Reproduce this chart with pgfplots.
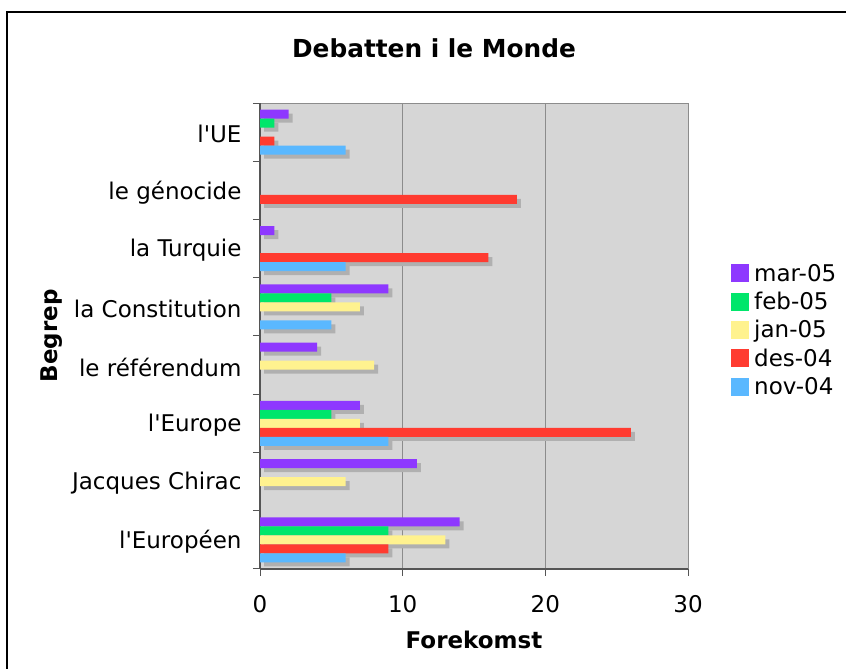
\documentclass[border=0pt]{standalone}
\usepackage{pgfplots}
\pgfplotsset{compat=1.18}
\usepackage{fontspec}
\setmainfont{DejaVu Sans}[Ligatures=TeXOff]
\definecolor{cmar}{RGB}{142,56,255}
\definecolor{cfeb}{RGB}{0,230,107}
\definecolor{cjan}{RGB}{255,242,143}
\definecolor{cdes}{RGB}{255,59,48}
\definecolor{cnov}{RGB}{90,184,255}
\definecolor{bgc}{RGB}{214,214,214}
\definecolor{shadc}{RGB}{176,176,176}
\definecolor{gridc}{RGB}{140,140,140}
\definecolor{axisc}{RGB}{85,85,85}
\tikzset{shbar/.style={fill=#1, draw=none, preaction={fill=shadc, transform canvas={xshift=4pt,yshift=-4pt}}}}
\begin{document}
\begin{tikzpicture}
\useasboundingbox (0pt,0pt) rectangle (846pt,669pt);
\draw[line width=2pt] (7pt,-10pt) -- (7pt,657pt) -- (870pt,657pt);
\node[font=\fontsize{24.8}{30}\selectfont\bfseries] at (434pt,621pt) {Debatten i le Monde};
\begin{axis}[
  at={(260pt,100pt)}, anchor=south west,
  scale only axis, width=428pt, height=466pt,
  xbar, bar width=9pt,
  xmin=0, xmax=30, ymin=-0.5, ymax=7.5,
  xtick={0,10,20,30},
  ytick={0,...,7},
  yticklabels={l'Européen, Jacques Chirac, l'Europe, le référendum, la Constitution, la Turquie, le génocide, l'UE},
  minor ytick={-0.5,0.5,...,7.5},
  major y tick style={draw=none},
  tick align=outside, major tick length=7pt, minor tick length=7pt,
  tick style={draw=axisc, line width=1pt},
  axis x line*=bottom, axis y line*=left,
  axis line style={draw=axisc, line width=1.5pt},
  axis background/.style={fill=bgc, draw=gridc, line width=1pt},
  xmajorgrids, major grid style={draw=gridc, line width=1pt},
  ticklabel style={font=\fontsize{23}{28}\selectfont},
  /pgf/number format/assume math mode=true,
  xticklabel style={yshift=-16pt},
  yticklabel style={xshift=-8pt, yshift=-2pt},
  xlabel={Forekomst}, ylabel={Begrep},
  label style={font=\fontsize{23}{28}\selectfont\bfseries},
  xlabel style={at={(axis description cs:0.5,-0.1524)}, anchor=center},
  ylabel style={at={(axis description cs:-0.486,0.5)}, anchor=center},
  legend image code/.code={\fill[#1, draw=none] (0pt,-9pt) rectangle (18pt,9pt);},
  legend style={draw=none, fill=none, at={(1,0.5)}, anchor=west, xshift=40pt, yshift=6pt,
    font=\fontsize{23}{28}\selectfont, row sep=5.5pt, nodes={inner sep=2pt},
    /tikz/every odd column/.style={column sep=3pt}},
  legend cell align=left,
]
\addplot[shbar=cmar, bar shift=18pt, forget plot] coordinates {(14,0) (11,1) (7,2) (4,3) (9,4) (1,5) (2,7)};
\addplot[shbar=cfeb, bar shift=9pt, forget plot] coordinates {(9,0) (5,2) (5,4) (1,7)};
\addplot[shbar=cjan, bar shift=0pt, forget plot] coordinates {(13,0) (6,1) (7,2) (8,3) (7,4)};
\addplot[shbar=cdes, bar shift=-9pt, forget plot] coordinates {(9,0) (26,2) (16,5) (18,6) (1,7)};
\addplot[shbar=cnov, bar shift=-18pt, forget plot] coordinates {(6,0) (9,2) (5,4) (6,5) (6,7)};
\addlegendimage{fill=cmar}\addlegendentry{mar-05}
\addlegendimage{fill=cfeb}\addlegendentry{feb-05}
\addlegendimage{fill=cjan}\addlegendentry{jan-05}
\addlegendimage{fill=cdes}\addlegendentry{des-04}
\addlegendimage{fill=cnov}\addlegendentry{nov-04}
\end{axis}
\end{tikzpicture}
\end{document}
